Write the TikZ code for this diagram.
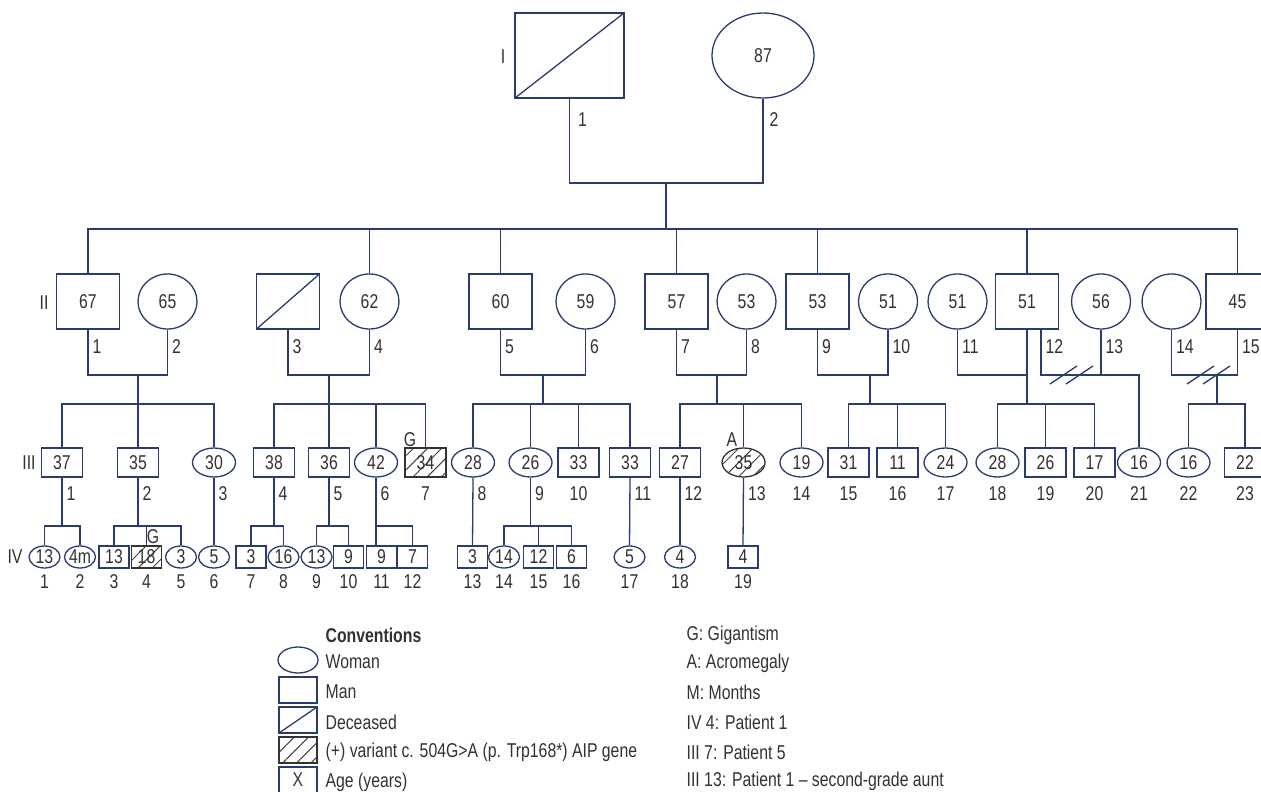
\documentclass[tikz,border=0pt]{standalone}
\usepackage{fontspec}
\setmainfont{Liberation Sans}[FakeStretch=0.79]
\usepackage{xcolor}
\usetikzlibrary{shapes.geometric,patterns.meta,calc}
\definecolor{pedline}{RGB}{42,60,110}
\definecolor{pedtext}{RGB}{50,50,50}
\newcommand\divmark[1]{\draw ([shift={(-22,9)}]#1) -- ++(27,-18) ([shift={(-6,9)}]#1) -- ++(27,-18);}

\begin{document}
\begin{tikzpicture}[
  x=0.5pt, y=-0.5pt, draw=pedline, line width=0.65pt,
  font=\fontsize{10}{12}\selectfont, text=pedtext,
  person/.style={draw=pedline, line width=0.65pt, inner sep=0pt},
  man/.style={person, rectangle},
  woman/.style={person, ellipse},
  sqI/.style={man, minimum width=54.5pt, minimum height=42.5pt},
  ciI/.style={woman, minimum width=51pt, minimum height=42.5pt},
  sqII/.style={man, minimum width=31.5pt, minimum height=27.5pt},
  ciII/.style={woman, minimum width=29.5pt, minimum height=27.5pt},
  sqIII/.style={man, minimum width=20.5pt, minimum height=14.5pt},
  ciIII/.style={woman, minimum width=21.5pt, minimum height=14.5pt},
  sqIV/.style={man, minimum width=15pt, minimum height=11pt},
  ciIV/.style={woman, minimum width=15.5pt, minimum height=11pt},
  sqkey/.style={man, minimum width=19pt, minimum height=13pt},
  cikey/.style={woman, minimum width=20pt, minimum height=13pt},
  dead/.style={path picture={\draw[pedline, line width=0.65pt] (path picture bounding box.south west) -- (path picture bounding box.north east);}},
  carrier/.style={draw=black!80, pattern={Lines[angle=45,distance=5pt,line width=0.5pt]}, pattern color=black!75},
  num/.style={inner sep=0pt},
  gen/.style={inner sep=0pt},
  keytext/.style={inner sep=0pt, anchor=west},
]
\useasboundingbox (0,0) rectangle (1261,791);

% Generation I
\node[sqI, dead] (i1) at (569.5,55.5) {};
\node[ciI] (i2) at (763,55.5) {87};
\node[gen] (gI) at (503,57) {I};
\node[num, anchor=west, xshift=4pt] (ni1) at (i1.south |- 0,120) {1};
\node[num, anchor=west, xshift=3pt] (ni2) at (i2.south |- 0,120) {2};

% Generation II
\node[gen] (gII) at (44,303) {II};
\node[sqII] (ii1) at (88,301.5) {67};
\node[ciII] (ii2) at (167.5,301.5) {65};
\node[sqII, dead] (ii3) at (288,301.5) {};
\node[ciII] (ii4) at (369.5,301.5) {62};
\node[sqII] (ii5) at (500.5,301.5) {60};
\node[ciII] (ii6) at (585.5,301.5) {59};
\node[sqII] (ii7) at (676.5,301.5) {57};
\node[ciII] (ii8) at (746.5,301.5) {53};
\node[sqII] (ii9) at (817.5,301.5) {53};
\node[ciII] (ii10) at (888,301.5) {51};
\node[ciII] (ii11) at (957.5,301.5) {51};
\node[sqII] (ii12) at (1027,301.5) {51};
\node[ciII] (ii13) at (1101,301.5) {56};
\node[ciII] (ii14) at (1171.5,301.5) {};
\node[sqII] (ii15) at (1237.5,301.5) {45};
\foreach \n in {1,...,11,13,14,15}
  \node[num, anchor=west, xshift=2pt] (nii\n) at (ii\n.south |- 0,347) {\n};
\node[num, anchor=west, xshift=9pt] (nii12) at (ii12.south |- 0,347) {12};

% Generation III
\node[gen] (gIII) at (29,463) {III};
\node[sqIII] (iii1) at (62,462.5) {37};
\node[sqIII] (iii2) at (138,462.5) {35};
\node[ciIII] (iii3) at (214,462.5) {30};
\node[sqIII] (iii4) at (274,462.5) {38};
\node[sqIII] (iii5) at (329,462.5) {36};
\node[ciIII] (iii6) at (376,462.5) {42};
\node[sqIII, carrier] (iii7) at (425.5,462.5) {34};
\node[ciIII] (iii8) at (473,462.5) {28};
\node[ciIII] (iii9) at (530.5,462.5) {26};
\node[sqIII] (iii10) at (578.5,462.5) {33};
\node[sqIII] (iii11) at (630,462.5) {33};
\node[sqIII] (iii12) at (680,462.5) {27};
\node[ciIII, carrier] (iii13) at (743.5,462.5) {35};
\node[ciIII] (iii14) at (801.5,462.5) {19};
\node[sqIII] (iii15) at (848.5,462.5) {31};
\node[sqIII] (iii16) at (897.5,462.5) {11};
\node[ciIII] (iii17) at (945.5,462.5) {24};
\node[ciIII] (iii18) at (997.5,462.5) {28};
\node[sqIII] (iii19) at (1045.5,462.5) {26};
\node[sqIII] (iii20) at (1094.5,462.5) {17};
\node[ciIII] (iii21) at (1139,462.5) {16};
\node[ciIII] (iii22) at (1188.5,462.5) {16};
\node[sqIII] (iii23) at (1245,462.5) {22};
\node[num] (g7) at (410,440) {G};
\node[num] (a13) at (732,440) {A};
\foreach \n in {1,2,3,4,5,6,8,9,11,12,13}
  \node[num, anchor=west, xshift=2pt] (niii\n) at (iii\n.south |- 0,494) {\n};
\foreach \n in {7,10,14,15,...,23}
  \node[num] (niii\n) at (iii\n.south |- 0,494) {\n};

% Generation IV
\node[gen] (gIV) at (15,557) {IV};
\node[ciIV] (iv1) at (44.5,557) {13};
\node[ciIV] (iv2) at (80,557) {4m};
\node[sqIV] (iv3) at (114,557) {13};
\node[sqIV, carrier] (iv4) at (146.5,557) {18};
\node[ciIV] (iv5) at (181,557) {3};
\node[ciIV] (iv6) at (214,557) {5};
\node[sqIV] (iv7) at (251,557) {3};
\node[ciIV] (iv8) at (283.5,557) {16};
\node[ciIV] (iv9) at (316.5,557) {13};
\node[sqIV] (iv10) at (348.5,557) {9};
\node[sqIV] (iv11) at (381.5,557) {9};
\node[sqIV] (iv12) at (412.5,557) {7};
\node[sqIV] (iv13) at (472.5,557) {3};
\node[ciIV] (iv14) at (504,557) {14};
\node[sqIV] (iv15) at (538.5,557) {12};
\node[sqIV] (iv16) at (571.5,557) {6};
\node[ciIV] (iv17) at (629.5,557) {5};
\node[ciIV] (iv18) at (680,557) {4};
\node[sqIV] (iv19) at (743,557) {4};
\node[num] (g4) at (153,537) {G};
\foreach \n in {1,...,19}
  \node[num] (niv\n) at (iv\n.south |- 0,582) {\n};

% Mating and descent points
\coordinate (m0) at (666,183);  \coordinate (s0) at (666,229);
\coordinate (m1) at (138,375);  \coordinate (s1) at (138,404);
\coordinate (m2) at (329,375);  \coordinate (s2) at (329,404);
\coordinate (m3) at (543,375);  \coordinate (s3) at (543,404);
\coordinate (m4) at (717,375);  \coordinate (s4) at (717,404);
\coordinate (m5) at (870,375);  \coordinate (s5) at (870,404);
\coordinate (m6) at (1027,375); \coordinate (s6) at (1027,404);
\coordinate (m7) at (1139,375);
\coordinate (m8) at (1217,375); \coordinate (s8) at (1217,404);
\coordinate (d7) at (1072,375);
\coordinate (d8) at (1209,375);

% I -> II
\draw (i1.south) |- (m0) -| (i2.south);
\draw (m0) -- (s0);
\draw (ii1.north) |- (s0) -| (ii15.north);
\foreach \n in {ii4,ii5,ii7,ii9,ii12}
  \draw (\n.north) -- (\n.north |- s0);

% II -> III
\draw (ii1.south) |- (m1) -| (ii2.south);
\draw (m1) -- (s1);
\draw (iii1.north) |- (s1) -| (iii3.north);
\draw (s1) -- (iii2.north);

\draw (ii3.south) |- (m2) -| (ii4.south);
\draw (m2) -- (s2);
\draw (iii4.north) |- (s2) -| (iii7.north);
\draw (s2) -- (iii5.north);
\draw (iii6.north) -- (iii6.north |- s2);

\draw (ii5.south) |- (m3) -| (ii6.south);
\draw (m3) -- (s3);
\draw (iii8.north) |- (s3) -| (iii11.north);
\foreach \n in {iii9,iii10}
  \draw (\n.north) -- (\n.north |- s3);

\draw (ii7.south) |- (m4) -| (ii8.south);
\draw (m4) -- (s4);
\draw (iii12.north) |- (s4) -| (iii14.north);
\draw (iii13.north) -- (iii13.north |- s4);

\draw (ii9.south) |- (m5) -| (ii10.south);
\draw (m5) -- (s5);
\draw (iii15.north) |- (s5) -| (iii17.north);
\draw (iii16.north) -- (iii16.north |- s5);

\draw (ii11.south) |- (m6) -- (ii12.south);
\draw (m6) -- (s6);
\draw (iii18.north) |- (s6) -| (iii20.north);
\draw (iii19.north) -- (iii19.north |- s6);

\draw ([xshift=7pt]ii12.south) |- (m7) -- (iii21.north);
\draw (ii13.south) -- (ii13.south |- m7);
\divmark{d7}

\draw (ii14.south) |- (m8) -| (ii15.south);
\draw (m8) -- (s8);
\draw (iii22.north) |- (s8) -| (iii23.north);
\divmark{d8}

% III -> IV
\coordinate (t1) at (62,526);
\coordinate (t2) at (138,526);
\coordinate (t4) at (274,526);
\coordinate (t5) at (329,526);
\coordinate (t6) at (376,526);
\coordinate (t9) at (530.5,526);
\draw (iii1.south) -- (t1);
\draw (iv1.north) |- (t1) -| (iv2.north);
\draw (iii2.south) -- (t2);
\draw (iv3.north) |- (t2) -| (iv5.north);
\draw (iv4.north) -- (iv4.north |- t2);
\draw (iii3.south) -- (iv6.north);
\draw (iii4.south) -- (t4);
\draw (iv7.north) |- (t4) -| (iv8.north);
\draw (iii5.south) -- (t5);
\draw (iv9.north) |- (t5) -| (iv10.north);
\draw (iii6.south) -- (t6 |- iv11.north);
\draw (t6) -| (iv12.north);
\draw (iii8.south) -- (iv13.north);
\draw (iii9.south) -- (t9);
\draw (iv14.north) |- (t9) -| (iv16.north);
\draw (iv15.north) -- (iv15.north |- t9);
\draw (iii11.south) -- (iv17.north);
\draw (iii12.south) -- (iv18.north);
\draw (iii13.south) -- (iv19.north);

% Conventions
\node[keytext, font=\fontsize{10}{12}\selectfont\bfseries] (keytitle) at (325,635) {Conventions};
\node[cikey] (kwoman) at (298,660) {};
\node[sqkey] (kman) at (298,690) {};
\node[sqkey, dead] (kdead) at (298,720) {};
\node[sqkey, carrier] (kcarrier) at (298,750) {};
\node[sqkey] (kage) at (298,780) {X};
\node[keytext] (twoman) at (325,662) {Woman};
\node[keytext] (tman) at (325,692) {Man};
\node[keytext] (tdead) at (325,722) {Deceased};
\node[keytext] (tcarrier) at (325,752) {(+) variant c. 504G>A (p. Trp168*) AIP gene};
\node[keytext] (tage) at (325,782) {Age (years)};

\node[keytext] (tg) at (686,635) {G: Gigantism};
\node[keytext] (ta) at (686,663) {A: Acromegaly};
\node[keytext] (tm) at (686,692) {M: Months};
\node[keytext] (tp1) at (686,722) {IV 4: Patient 1};
\node[keytext] (tp5) at (686,752) {III 7: Patient 5};
\node[keytext] (taunt) at (686,781) {III 13: Patient 1 – second-grade aunt};
\end{tikzpicture}
\end{document}
